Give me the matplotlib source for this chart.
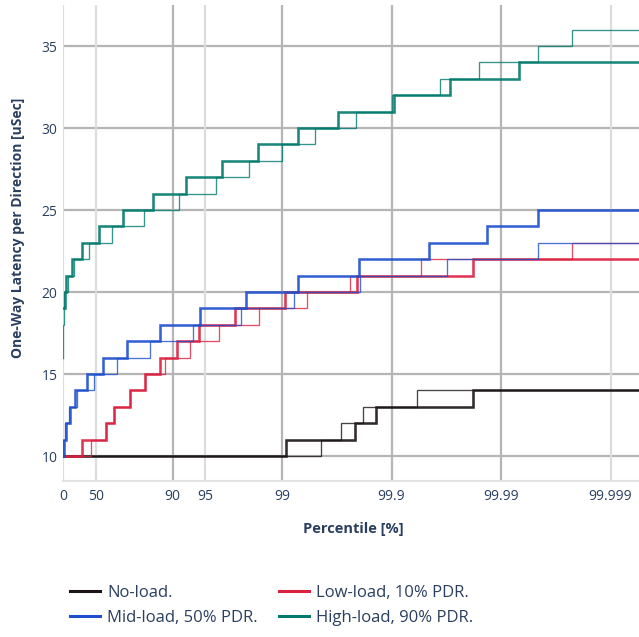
import numpy as np
import matplotlib
matplotlib.use("Agg")
import matplotlib.pyplot as plt
from matplotlib.lines import Line2D

plt.rcParams['font.family'] = ['Open Sans', 'DejaVu Sans']

# ---------------- data (percentile [%] where latency steps up, latency [uSec]) ----------------
TAIL_END = 99.999999  # lines continue to the right edge

noload_a_pct = [0, 99.081, 99.785, 99.861, 99.9819]
noload_a_lat = [10, 11, 12, 13, 14]
noload_b_pct = [0, 99.555, 99.709, 99.819, 99.9411]
noload_b_lat = [10, 11, 12, 13, 14]

low_a_pct = [0, 32.5, 59.1, 65.8, 75.3, 82.2, 87.0, 90.85, 94.27, 97.34, 99.051, 99.793, 99.9818]
low_a_lat = [10, 11, 12, 13, 14, 15, 16, 17, 18, 19, 20, 21, 22]
low_b_pct = [0, 44.5, 59.1, 65.8, 75.3, 82.2, 88.4, 93.08, 96.26, 98.38, 99.405, 99.761, 99.9457, 99.99773]
low_b_lat = [10, 11, 12, 13, 14, 15, 16, 17, 18, 19, 20, 21, 22, 23]

mid_a_pct = [0, 2.1, 5.5, 13.7, 23.1, 40.0, 57.0, 74.1, 87.1, 94.39, 97.88, 99.29, 99.802, 99.9548, 99.98649, 99.995436]
mid_a_lat = [10, 11, 12, 13, 14, 15, 16, 17, 18, 19, 20, 21, 22, 23, 24, 25]
mid_b_pct = [0, 1.0, 4.1, 11.9, 25.5, 47.9, 67.9, 84.0, 93.50, 97.61, 99.226, 99.804, 99.9686, 99.995436]
mid_b_lat = [10, 11, 12, 13, 14, 15, 16, 17, 18, 19, 20, 21, 22, 23]

high_a_pct = [0, 3.5, 6.1, 17.2, 32.9, 52.6, 71.4, 84.8, 92.4, 96.45, 98.35, 99.28, 99.69, 99.906, 99.971, 99.9932]
high_a_lat = [19, 20, 21, 22, 23, 24, 25, 26, 27, 28, 29, 30, 31, 32, 33, 34]
high_b_pct = [0, 0.5, 1.0, 1.5, 2.1, 10.0, 20.7, 42.7, 64.3, 81.8, 91.33, 95.97, 98.0, 99.006, 99.50,
              99.788, 99.902, 99.964, 99.9842, 99.99544, 99.99774]
high_b_lat = [16, 17, 18, 19, 20, 21, 22, 23, 24, 25, 26, 27, 28, 29, 30, 31, 32, 33, 34, 35, 36]

series_names = ["No-load.", "Low-load, 10% PDR.", "Mid-load, 50% PDR.", "High-load, 90% PDR."]
series_colors = ["#1b1414", "#dc2040", "#1e4fcc", "#007a6c"]

x_ticks = [0, 50, 90, 95, 99, 99.9, 99.99, 99.999]
x_tick_labels = ["0", "50", "90", "95", "99", "99.9", "99.99", "99.999"]
y_ticks = [10, 15, 20, 25, 30, 35]

# ---------------- scale ----------------
def fwd(p):
    p = np.asarray(p, dtype=float)
    return -np.log10(np.clip(1.0 - p / 100.0, 1e-12, None))

def inv(u):
    u = np.asarray(u, dtype=float)
    return 100.0 * (1.0 - np.power(10.0, -u))

W, H = 639, 637
fig = plt.figure(figsize=(W / 100, H / 100), dpi=100)
L, R, T, B = 63, 639, 5, 481
ax = fig.add_axes([L / W, 1 - B / H, (R - L) / W, (B - T) / H])
ax.set_xscale('function', functions=(fwd, inv))
ax.set_xlim(0, float(inv(5.26)))
ax.set_ylim(8.48, 37.5)

label_color = "#2a3f5f"
dark_grid = "#b5b5b5"
light_grid = "#dcdcdc"

# gridlines
for yt in y_ticks:
    ax.axhline(yt, color=dark_grid, lw=1.6, zorder=0)
major_x = {90, 99, 99.9, 99.99}
for xt in x_ticks:
    ax.axvline(xt, color=dark_grid if xt in major_x else light_grid, lw=1.6, zorder=0)

def ext(pcts, lats):
    return list(pcts) + [TAIL_END], list(lats) + [lats[-1]]

groups = [
    (noload_a_pct, noload_a_lat, noload_b_pct, noload_b_lat),
    (low_a_pct, low_a_lat, low_b_pct, low_b_lat),
    (mid_a_pct, mid_a_lat, mid_b_pct, mid_b_lat),
    (high_a_pct, high_a_lat, high_b_pct, high_b_lat),
]
for (pa, la, pb, lb), col in zip(groups, series_colors):
    x, y = ext(pa, la)
    ax.plot(x, y, drawstyle='steps-post', color=col, lw=1.85, alpha=0.9, zorder=3,
            solid_joinstyle='miter')
    x, y = ext(pb, lb)
    ax.plot(x, y, drawstyle='steps-post', color=col, lw=0.95, alpha=0.8, zorder=3,
            solid_joinstyle='miter')

ax.set_xticks(x_ticks)
ax.set_xticklabels(x_tick_labels)
ax.set_yticks(y_ticks)
ax.minorticks_off()
ax.tick_params(axis='both', length=0, labelsize=10, labelcolor=label_color)
ax.tick_params(axis='x', pad=6)
ax.tick_params(axis='y', pad=4)

for s in ['top', 'right', 'left']:
    ax.spines[s].set_visible(False)
ax.spines['bottom'].set_color("#e3e3e3")
ax.spines['bottom'].set_linewidth(1.5)

fig.text(353 / W, 1 - 529 / H, "Percentile [%]", ha='center', va='center',
         fontsize=10.5, fontweight='bold', color=label_color)
fig.text(18 / W, 1 - 228 / H, "One-Way Latency per Direction [uSec]", ha='center', va='center',
         rotation=90, fontsize=10, fontweight='bold', color=label_color)

handles = [Line2D([], [], color=c, lw=2.2) for c in series_colors]
order = [0, 2, 1, 3]
fig.legend([handles[i] for i in order], [series_names[i] for i in order],
           ncol=2, loc='upper left', bbox_to_anchor=(70 / W, 1 - 585 / H),
           frameon=False, fontsize=12, handlelength=1.8, handletextpad=0.42,
           columnspacing=1.26, labelspacing=0.55, borderpad=0, borderaxespad=0,
           labelcolor=label_color)

fig.savefig("out.png", dpi=100)
